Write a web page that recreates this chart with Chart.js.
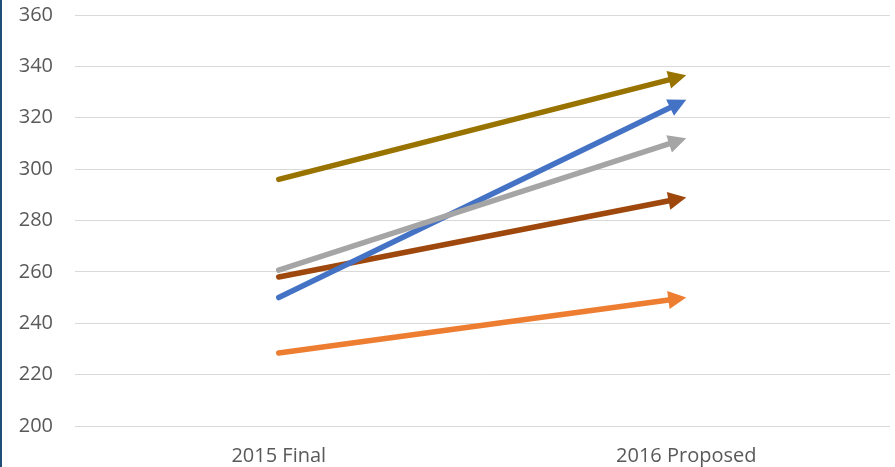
<!DOCTYPE html>
<html>
<head>
<meta charset="utf-8">
<script src="https://cdn.jsdelivr.net/npm/chart.js@4/dist/chart.umd.min.js"></script>
<style>
  body { margin: 0; background: #fff; }
  #wrap { position: relative; width: 895px; height: 467px; }
  #edge { position: absolute; left: 0; top: 0; width: 2px; height: 467px; background: #1f4e79; }
</style>
</head>
<body>
<div id="wrap">
  <canvas id="chart" width="895" height="467"></canvas>
  <div id="edge"></div>
</div>
<script>
const categories = ['2015 Final', '2016 Proposed'];

const goldSeries = [296, 336.5];
const blueSeries = [250, 327];
const graySeries = [260.7, 312];
const brownSeries = [258, 289];
const orangeSeries = [228.4, 250];

const yTicks = { min: 200, max: 360, step: 20 };

// arrows: line from first point, triangle head ending at last point
const arrowPlugin = {
    id: 'arrows',
    afterDatasetsDraw(chart) {
        const ctx = chart.ctx;
        const headLen = 18, headHalf = 9;
        chart.data.datasets.forEach((ds, i) => {
            const pts = chart.getDatasetMeta(i).data;
            const a = pts[0], b = pts[pts.length - 1];
            const dx = b.x - a.x, dy = b.y - a.y;
            const len = Math.hypot(dx, dy);
            const ux = dx / len, uy = dy / len;
            const bx = b.x - ux * headLen, by = b.y - uy * headLen;
            ctx.save();
            ctx.strokeStyle = ds.arrowColor;
            ctx.fillStyle = ds.arrowColor;
            ctx.lineWidth = 5.5;
            ctx.lineCap = 'round';
            ctx.beginPath();
            ctx.moveTo(a.x, a.y);
            ctx.lineTo(bx + ux * 2, by + uy * 2);
            ctx.stroke();
            ctx.beginPath();
            ctx.moveTo(b.x, b.y);
            ctx.lineTo(bx - uy * headHalf, by + ux * headHalf);
            ctx.lineTo(bx + uy * headHalf, by - ux * headHalf);
            ctx.closePath();
            ctx.fill();
            ctx.restore();
        });
    }
};

function series(data, color) {
    return {
        data: data,
        arrowColor: color,
        borderColor: color,
        showLine: false,
        pointRadius: 0,
        pointHoverRadius: 0
    };
}

new Chart(document.getElementById('chart'), {
    type: 'line',
    data: {
        labels: categories,
        datasets: [
            series(orangeSeries, '#ed7d31'),
            series(brownSeries, '#9e480e'),
            series(blueSeries, '#4472c4'),
            series(graySeries, '#a5a5a5'),
            series(goldSeries, '#997300')
        ]
    },
    options: {
        responsive: false,
        animation: false,
        layout: { padding: { top: 15, right: 5, left: 0, bottom: 0 } },
        plugins: { legend: { display: false }, tooltip: { enabled: false } },
        scales: {
            x: {
                offset: true,
                grid: { display: false, drawTicks: false },
                border: { display: false },
                ticks: { color: '#595959', font: { family: 'Open Sans', size: 20 }, padding: 18, maxRotation: 0 },
                afterFit(scale) { scale.height = 41; }
            },
            y: {
                min: yTicks.min,
                max: yTicks.max,
                grid: { color: '#d9d9d9', lineWidth: 1, drawTicks: false },
                border: { display: false },
                ticks: { stepSize: yTicks.step, color: '#595959', font: { family: 'Open Sans', size: 20 }, padding: 22 },
                afterFit(scale) { scale.width = 75; scale.paddingTop = 0; scale.paddingBottom = 0; }
            }
        }
    },
    plugins: [arrowPlugin]
});
</script>
</body>
</html>
